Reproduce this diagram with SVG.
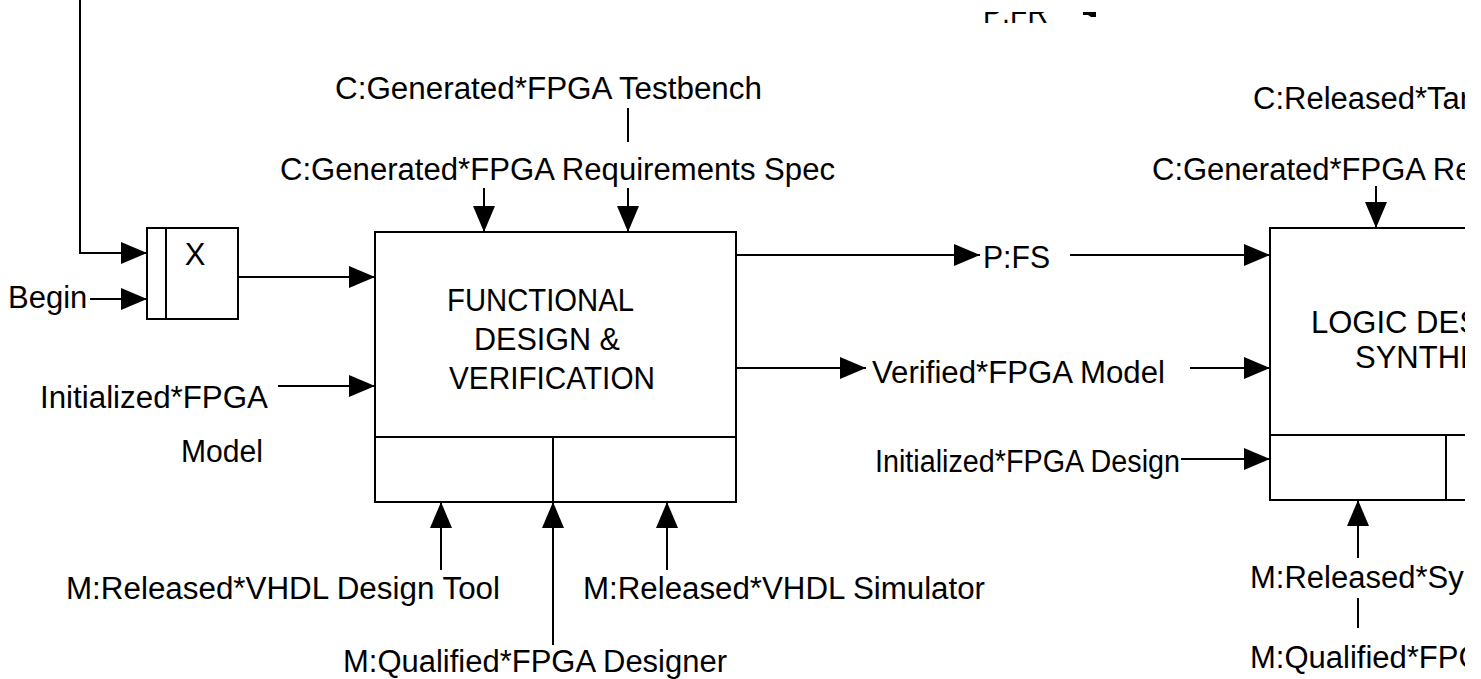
<svg xmlns="http://www.w3.org/2000/svg" width="1481" height="679" viewBox="0 0 1481 679">
<style>
text{font-family:"Liberation Sans",Arial,sans-serif;font-size:31px;fill:#000}
.ln{stroke:#000;stroke-width:2;fill:none}
.bx{stroke:#000;stroke-width:2;fill:#fff}
.ar{marker-end:url(#ah)}
</style>
<defs>
<marker id="ah" markerUnits="userSpaceOnUse" markerWidth="26" markerHeight="22" refX="26" refY="11" orient="auto" viewBox="0 0 26 22">
<path d="M0,0 L26,11 L0,22 z" fill="#000"/>
</marker>
<clipPath id="page"><rect x="0" y="0" width="1465" height="679"/></clipPath>
<clipPath id="topcut"><rect x="0" y="12" width="1465" height="667"/></clipPath>
</defs>
<g clip-path="url(#page)">
<g id="connectors">
<polyline class="ln ar" points="80,0 80,253 147,253"/>
<line class="ln ar" x1="90" y1="299" x2="147" y2="299"/>
<line class="ln ar" x1="238" y1="277" x2="375" y2="277"/>
<line class="ln ar" x1="484" y1="188" x2="484" y2="232"/>
<line class="ln ar" x1="628" y1="188" x2="628" y2="232"/>
<line class="ln" x1="628" y1="108" x2="628" y2="142"/>
<line class="ln ar" x1="278" y1="386" x2="375" y2="386"/>
<line class="ln ar" x1="441" y1="570" x2="441" y2="502"/>
<line class="ln ar" x1="553" y1="645" x2="553" y2="502"/>
<line class="ln ar" x1="667" y1="570" x2="667" y2="502"/>
<line class="ln ar" x1="736" y1="255" x2="980" y2="255"/>
<line class="ln ar" x1="1070" y1="255" x2="1270" y2="255"/>
<line class="ln ar" x1="736" y1="368" x2="866" y2="368"/>
<line class="ln ar" x1="1190" y1="368" x2="1270" y2="368"/>
<line class="ln ar" x1="1181" y1="459" x2="1270" y2="459"/>
<line class="ln ar" x1="1376" y1="186" x2="1376" y2="228"/>
<line class="ln ar" x1="1358" y1="558" x2="1358" y2="500"/>
<line class="ln" x1="1358" y1="598" x2="1358" y2="628"/>
<polygon points="1083,12 1096,12 1096,17 1091,17 1088,15 1083,15" fill="#000"/>
</g>
<g id="node-x">
<rect class="bx" x="147" y="228" width="91" height="91"/>
<line class="ln" x1="166" y1="228" x2="166" y2="319"/>
<text x="195" y="265" text-anchor="middle">X</text>
</g>
<g id="node-begin"><text x="8" y="308">Begin</text></g>
<g id="node-fdv">
<rect class="bx" x="375" y="232" width="361" height="270"/>
<line class="ln" x1="375" y1="437" x2="736" y2="437"/>
<line class="ln" x1="553" y1="437" x2="553" y2="502"/>
<text x="447" y="311" textLength="187" lengthAdjust="spacingAndGlyphs">FUNCTIONAL</text>
<text x="474" y="350" textLength="146" lengthAdjust="spacingAndGlyphs">DESIGN &amp;</text>
<text x="449" y="389" textLength="206" lengthAdjust="spacingAndGlyphs">VERIFICATION</text>
</g>
<g id="labels-fdv">
<text x="335" y="99" textLength="427" lengthAdjust="spacingAndGlyphs">C:Generated*FPGA Testbench</text>
<text x="280" y="180" textLength="555" lengthAdjust="spacingAndGlyphs">C:Generated*FPGA Requirements Spec</text>
<text x="40" y="408" textLength="228" lengthAdjust="spacingAndGlyphs">Initialized*FPGA</text>
<text x="181" y="462" textLength="82" lengthAdjust="spacingAndGlyphs">Model</text>
<text x="66" y="599" textLength="434" lengthAdjust="spacingAndGlyphs">M:Released*VHDL Design Tool</text>
<text x="583" y="599" textLength="402" lengthAdjust="spacingAndGlyphs">M:Released*VHDL Simulator</text>
<text x="343" y="672" textLength="384" lengthAdjust="spacingAndGlyphs">M:Qualified*FPGA Designer</text>
<text x="983" y="268" textLength="67" lengthAdjust="spacingAndGlyphs">P:FS</text>
<text x="872" y="383" textLength="293" lengthAdjust="spacingAndGlyphs">Verified*FPGA Model</text>
<text x="875" y="472" textLength="305" lengthAdjust="spacingAndGlyphs">Initialized*FPGA Design</text>
<g clip-path="url(#topcut)"><text x="983" y="23" textLength="65" lengthAdjust="spacingAndGlyphs">P:FR</text></g>
</g>
<g id="node-lds">
<rect class="bx" x="1270" y="228" width="260" height="272"/>
<line class="ln" x1="1270" y1="435" x2="1530" y2="435"/>
<line class="ln" x1="1446" y1="435" x2="1446" y2="500"/>
<text x="1311" y="333">LOGIC DESIGN &amp;</text>
<text x="1355" y="368">SYNTHESIS</text>
</g>
<g id="labels-lds">
<text x="1253" y="109">C:Released*Target Device</text>
<text x="1152" y="180">C:Generated*FPGA Requirements Spec</text>
<text x="1250" y="588">M:Released*Synthesis Tool</text>
<text x="1250" y="668">M:Qualified*FPGA Designer</text>
</g>
</g>
</svg>
